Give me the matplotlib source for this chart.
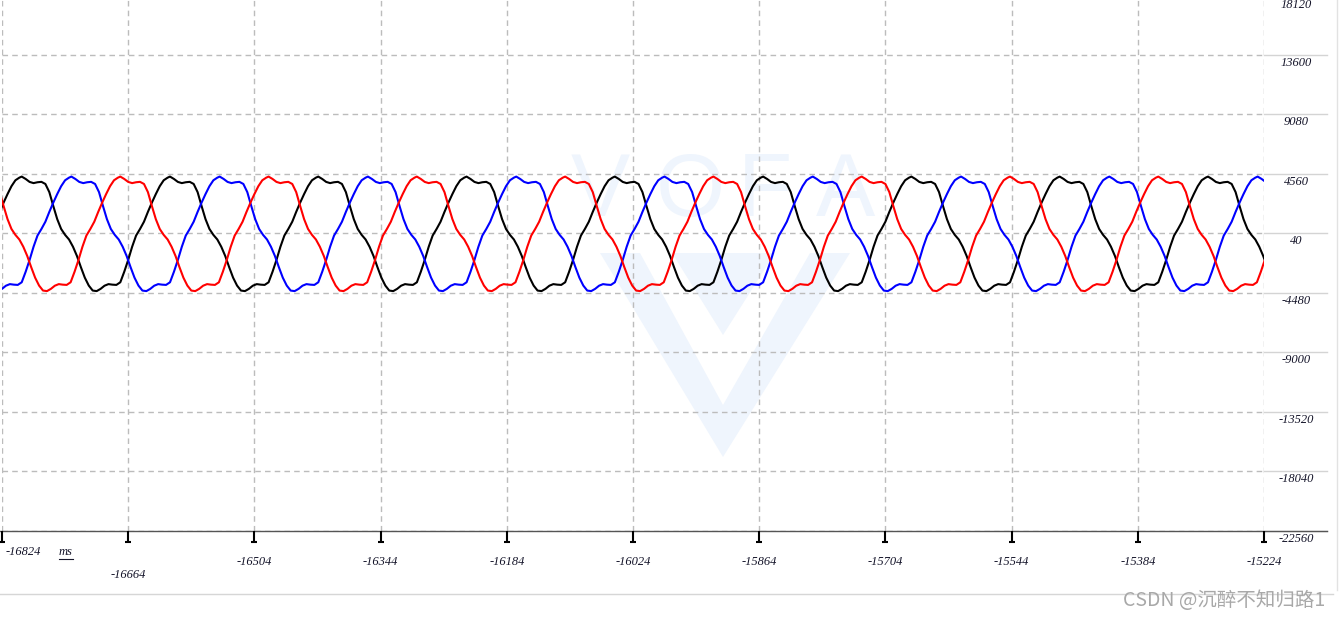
import matplotlib
matplotlib.use('Agg')
import matplotlib.pyplot as plt
import numpy as np
from matplotlib.lines import Line2D
from matplotlib.patches import Polygon
from matplotlib.path import Path

# one cycle of the phase waveform: ms after the peak -> value
cycle_ms = [0, 5, 10, 15, 20, 25, 30, 35, 40, 45, 50, 55, 60, 65, 70, 75, 80, 85, 90,
            95, 100, 105, 110, 115, 120, 125, 130, 135, 140, 145, 150, 155, 160, 165,
            170, 175, 180, 185]
cycle_val = [4330, 4150, 3925, 3835, 3900, 3930, 3770, 3150, 2100, 1100, 350, -100, -450,
             -1000, -1700, -2550, -3350, -3950, -4330, -4370, -4200, -3960, -3840, -3880,
             -3900, -3700, -2900, -2000, -1000, -150, 350, 900, 1650, 2350, 3000, 3600,
             4050, 4250]
period_ms = 188

# first peak of each phase in view (ms)
phase_peak_ms = [-16799, -16736, -16674]
phase_colors = ['black', 'blue', 'red']

x_min, x_max = -16824, -15224
x_ticks = [-16824, -16664, -16504, -16344, -16184, -16024, -15864, -15704, -15544, -15384, -15224]
y_ticks = [18120, 13600, 9080, 4560, 40, -4480, -9000, -13520, -18040, -22560]

W, H = 1340, 617
fig = plt.figure(figsize=(W / 100, H / 100), dpi=100)
fig.patch.set_facecolor('white')


def fx(px):
    return px / W


def fy(py):
    return 1 - py / H


ax = fig.add_axes([fx(2), fy(530.5), (1264 - 2) / W, (530.5 + 4.9) / H])
ax.set_facecolor('none')

# faint VOFA watermark behind the plot
wm = '#eff5fd'
for letter, cx in zip('VOFA', [600, 690, 765, 845]):
    fig.text(fx(cx), fy(193), letter, ha='center', va='center', fontsize=64,
             family='Liberation Sans', color=wm, zorder=-2)
fig.add_artist(Polygon([(fx(600), fy(253)), (fx(850), fy(253)), (fx(723), fy(457))],
                       closed=True, transform=fig.transFigure, facecolor=wm,
                       edgecolor='none', zorder=-2))
fig.add_artist(Polygon([(fx(640), fy(253)), (fx(810), fy(253)), (fx(723), fy(405))],
                       closed=True, transform=fig.transFigure, facecolor='white',
                       edgecolor='none', zorder=-1.5))
fig.add_artist(Polygon([(fx(672), fy(253)), (fx(775), fy(253)), (fx(723), fy(335))],
                       closed=True, transform=fig.transFigure, facecolor=wm,
                       edgecolor='none', zorder=-1.2))

n_cycles = int((x_max - x_min) / period_ms) + 2
for peak, color in zip(phase_peak_ms, phase_colors):
    t = np.concatenate([peak + k * period_ms + np.asarray(cycle_ms) for k in range(-1, n_cycles)])
    v = np.tile(cycle_val, n_cycles + 1)
    ax.plot(t, v, color=color, lw=1.5, zorder=3)

ax.set_xlim(x_min, x_max)
ax.set_ylim(-22560, 18120)
ax.set_xticks(x_ticks)
ax.set_yticks(y_ticks)
ax.grid(True, ls=(0, (4, 3)), color='#bcbcbc', lw=1)
ax.tick_params(length=0, labelbottom=False, labelleft=False)
for s in ax.spines.values():
    s.set_visible(False)

txt_kw = dict(fontsize=9, fontstyle='italic', family='Liberation Serif', color='#15152a')

# right-hand value labels and the grid stubs past the plot
ytr = ax.get_yaxis_transform()
for y in y_ticks:
    ax.add_line(Line2D([1.0, (1327 - 2) / 1262], [y, y], transform=ytr, color='#d4d4d4',
                       lw=1, clip_on=False))
    dy = -7.2 if y == y_ticks[0] else -5.8
    ax.annotate(str(y), xy=(1.0254, y), xycoords=ytr, xytext=(0, dy),
                textcoords='offset points', ha='center', va='center',
                annotation_clip=False, **txt_kw)

# time axis line, ticks with a small foot, labels
xtr = ax.get_xaxis_transform()
ax.add_line(Line2D([-2 / 1262, (1327 - 2) / 1262], [0, 0], transform=ax.transAxes,
                   color='#555555', lw=1, clip_on=False, zorder=4))
foot = Path([(0, 0), (0, -1), (-0.25, -1), (0.25, -1)],
            [Path.MOVETO, Path.LINETO, Path.MOVETO, Path.LINETO])
ax.plot(x_ticks, [0] * len(x_ticks), transform=xtr, ls='none', marker=foot, ms=15.8,
        mew=1.5, color='black', clip_on=False, zorder=5)
for i, x in enumerate(x_ticks):
    if i == 0:
        off = (15, -15.6)
    elif i == 1:
        off = (0, -32.4)
    else:
        off = (0, -23)
    ax.annotate(str(x), xy=(x, 0), xycoords=xtr, xytext=off, textcoords='offset points',
                ha='center', va='center', annotation_clip=False, **txt_kw)

fig.text(fx(65.5), fy(552), 'ms', ha='center', va='center', **txt_kw)
fig.add_artist(Line2D([fx(59), fx(73)], [fy(558.5), fy(558.5)], transform=fig.transFigure,
                      color='#15152a', lw=0.8))

# panel border
fig.add_artist(Line2D([0, fx(1333)], [fy(594), fy(594)], transform=fig.transFigure,
                      color='#d6d6d6', lw=1))
fig.add_artist(Line2D([fx(1337), fx(1337)], [fy(590), 1], transform=fig.transFigure,
                      color='#e2e2e2', lw=1))

fig.text(fx(1325), fy(600), 'CSDN @沉醉不知归路1', ha='right', va='center', fontsize=14,
         color='#a8a8a8', family=['Noto Sans CJK SC', 'DejaVu Sans'])

fig.savefig('out.png', dpi=100, facecolor='white')
